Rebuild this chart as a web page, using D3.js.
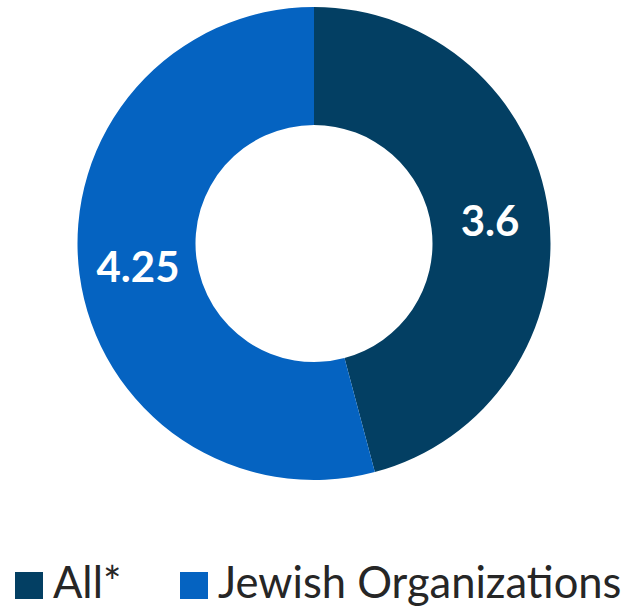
<!DOCTYPE html>
<html>
<head>
<meta charset="utf-8">
<script src="https://cdn.jsdelivr.net/npm/d3@7"></script>
<style>
  html, body { margin: 0; padding: 0; background: #fff; }
  svg { display: block; }
</style>
</head>
<body>
<svg id="chart" width="633" height="609"></svg>
<script>
// Donut chart data
const categories = ["All*", "Jewish Organizations"];
const values = [3.6, 4.25];
const valueLabels = ["3.6", "4.25"];
const colors = ["#033F63", "#0563C1"];

const svg = d3.select("#chart");
const cx = 314, cy = 243.5;
const outerR = 236.5, innerR = 118.5;

const pie = d3.pie().sort(null).value(d => d.value);
const arcs = pie(categories.map((c, i) => ({ name: c, value: values[i], label: valueLabels[i], color: colors[i] })));
const arc = d3.arc().innerRadius(innerR).outerRadius(outerR);

const g = svg.append("g").attr("transform", `translate(${cx},${cy})`);

g.selectAll("path.slice")
  .data(arcs)
  .join("path")
  .attr("class", "slice")
  .attr("d", arc)
  .attr("fill", d => d.data.color);

g.selectAll("text.value")
  .data(arcs)
  .join("text")
  .attr("class", "value")
  .attr("transform", d => `translate(${arc.centroid(d)})`)
  .attr("text-anchor", "middle")
  .attr("dy", "0.38em")
  .attr("fill", "#fff")
  .attr("font-family", "Lato, 'Open Sans', sans-serif")
  .attr("font-weight", "bold")
  .attr("font-size", 42)
  .text(d => d.data.label);

// Legend
const legend = svg.append("g").attr("class", "legend");
const legendX = [15, 180];
const item = legend.selectAll("g.item")
  .data(categories)
  .join("g")
  .attr("class", "item")
  .attr("transform", (d, i) => `translate(${legendX[i]},0)`);

item.append("rect")
  .attr("x", 0)
  .attr("y", 572)
  .attr("width", 28)
  .attr("height", 27)
  .attr("fill", (d, i) => colors[i]);

item.append("text")
  .attr("x", 38)
  .attr("y", 598)
  .attr("fill", "#262626")
  .attr("font-family", "Lato, 'Open Sans', sans-serif")
  .attr("font-size", 43.5)
  .text(d => d);
</script>
</body>
</html>
